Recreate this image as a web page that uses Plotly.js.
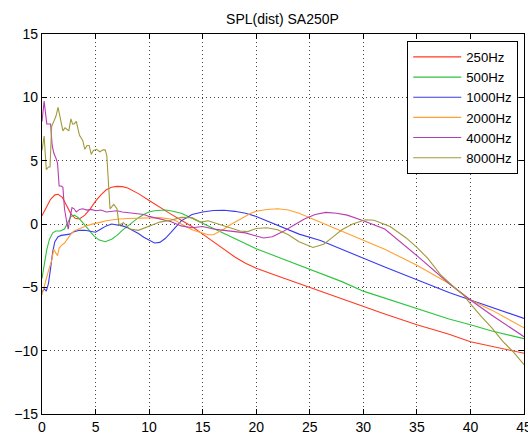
<!DOCTYPE html>
<html>
<head>
<meta charset="utf-8">
<script src="https://cdn.plot.ly/plotly-3.0.1.min.js"></script>
<style>html,body{margin:0;padding:0;background:#fff;}#plot{width:528px;height:435px;}</style>
</head>
<body>
<div id="plot"></div>
<script>
const seriesNames = ["250Hz", "500Hz", "1000Hz", "2000Hz", "4000Hz", "8000Hz"];
const seriesColors = ["#ff3a20", "#2ec43c", "#3a3aee", "#ffa030", "#b83cb0", "#a09a38"];

const x250 = [0, 0.4, 0.8, 1.2, 1.5, 1.9, 2.3, 2.7, 3.1, 3.5, 4.0, 4.5, 5.0, 5.5, 6.0, 6.5, 7.0, 7.5, 8.0, 9.0, 10.0, 11.0, 12.0, 13.0, 14.0, 15.0, 16.0, 17.0, 18.0, 19.0, 20.0, 22.0, 24.0, 26.0, 28.0, 30.0, 32.0, 35.0, 38.0, 40.0, 42.0, 44.0, 45.0];
const y250 = [0.65, 1.3, 1.95, 2.3, 2.35, 2.1, 1.5, 0.8, 0.45, 0.4, 0.7, 1.2, 1.8, 2.3, 2.7, 2.9, 2.97, 2.95, 2.85, 2.4, 1.85, 1.3, 0.8, 0.3, -0.2, -0.8, -1.4, -2.0, -2.6, -3.1, -3.5, -4.1, -4.7, -5.3, -5.9, -6.55, -7.1, -7.95, -8.7, -9.3, -9.65, -10.0, -10.2];

const x500 = [0, 0.2, 0.45, 0.7, 1.0, 1.3, 1.7, 2.1, 2.4, 2.7, 3.0, 3.4, 3.8, 4.3, 4.8, 5.3, 5.9, 6.5, 7.0, 7.5, 8.0, 8.5, 9.0, 9.5, 10.0, 10.5, 11.0, 11.5, 12.0, 13.0, 14.0, 15.0, 16.0, 17.0, 18.0, 19.0, 20.0, 22.0, 24.0, 26.0, 28.0, 30.0, 32.0, 35.0, 38.0, 40.0, 42.0, 45.0];
const y500 = [-4.3, -3.2, -2.0, -1.2, -0.7, -0.55, -0.55, -0.4, 0.1, 0.6, 0.7, 0.5, 0.1, -0.4, -0.9, -1.25, -1.4, -1.2, -0.9, -0.5, -0.15, 0.2, 0.5, 0.75, 0.95, 1.05, 1.1, 1.1, 1.05, 0.85, 0.45, 0.05, -0.35, -0.75, -1.15, -1.55, -1.95, -2.6, -3.25, -3.9, -4.55, -5.3, -5.85, -6.7, -7.5, -7.95, -8.45, -9.05];

const x1000 = [0, 0.2, 0.4, 0.6, 0.8, 1.0, 1.2, 1.5, 1.8, 2.2, 2.6, 3.0, 3.5, 4.0, 4.5, 5.0, 5.5, 6.0, 6.5, 7.0, 7.5, 8.0, 8.5, 9.0, 9.5, 10.0, 10.5, 11.0, 11.5, 12.0, 12.5, 13.0, 14.0, 15.0, 16.0, 17.0, 18.0, 19.0, 20.0, 21.0, 22.0, 23.0, 24.0, 26.0, 28.0, 30.0, 32.0, 35.0, 38.0, 40.0, 42.0, 45.0];
const y1000 = [-5.4, -5.1, -5.3, -4.7, -3.5, -2.2, -1.4, -1.0, -0.9, -0.85, -0.8, -0.6, -0.5, -0.5, -0.55, -0.65, -0.4, -0.15, 0.0, -0.05, -0.15, -0.3, -0.5, -0.75, -1.05, -1.3, -1.5, -1.45, -1.15, -0.7, -0.2, 0.25, 0.75, 0.95, 1.07, 1.08, 1.0, 0.85, 0.6, 0.25, -0.1, -0.45, -0.8, -1.3, -2.0, -2.75, -3.4, -4.4, -5.4, -6.0, -6.6, -7.45];

const x2000 = [0, 0.3, 0.6, 0.9, 1.1, 1.3, 1.45, 1.6, 1.8, 2.1, 2.4, 2.7, 3.0, 3.5, 4.0, 4.5, 5.0, 5.5, 6.0, 7.0, 8.0, 9.0, 10.0, 11.0, 12.0, 12.5, 13.0, 13.5, 14.0, 14.5, 15.0, 15.5, 16.0, 16.5, 17.0, 17.5, 18.0, 18.5, 19.0, 19.5, 20.0, 21.0, 22.0, 23.0, 24.0, 25.0, 26.0, 27.0, 28.0, 30.0, 32.0, 35.0, 38.0, 40.0, 42.0, 45.0];
const y2000 = [-5.6, -4.6, -3.7, -2.9, -2.0, -2.3, -2.5, -1.9, -1.7, -1.5, -1.1, -0.8, -0.55, -0.35, -0.2, -0.05, 0.08, 0.15, 0.25, 0.38, 0.43, 0.45, 0.52, 0.5, 0.4, 0.25, 0.0, -0.25, -0.45, -0.6, -0.75, -0.85, -0.85, -0.65, -0.4, -0.1, 0.15, 0.4, 0.65, 0.85, 1.0, 1.15, 1.2, 1.1, 0.85, 0.5, 0.15, -0.2, -0.55, -1.3, -2.0, -3.25, -4.7, -6.0, -6.8, -8.2];

const x4000 = [0, 0.2, 0.35, 0.45, 0.6, 0.8, 0.95, 1.1, 1.3, 1.45, 1.6, 1.8, 1.95, 2.1, 2.3, 2.45, 2.6, 2.8, 3.0, 3.2, 3.5, 3.8, 4.2, 4.6, 5.0, 5.5, 6.0, 6.5, 7.0, 7.5, 8.0, 8.5, 9.0, 9.5, 10.0, 11.0, 12.0, 13.0, 14.0, 15.0, 16.0, 17.0, 18.0, 19.0, 20.0, 20.7, 21.5, 22.5, 23.5, 24.5, 25.5, 26.5, 27.5, 28.5, 30.0, 32.0, 35.0, 38.0, 40.0, 42.0, 45.0];
const y4000 = [8.1, 9.7, 8.6, 7.9, 7.9, 7.9, 6.2, 5.6, 5.2, 4.8, 3.0, 3.0, 2.9, 1.2, 0.2, -0.4, 0.4, 1.3, 1.2, 0.95, 1.15, 1.2, 1.1, 1.15, 1.05, 1.1, 0.95, 1.0, 1.05, 0.95, 0.9, 0.85, 0.75, 0.75, 0.6, 0.4, 0.2, -0.15, -0.3, -0.2, -0.4, -0.5, -0.6, -0.7, -0.95, -1.1, -1.0, -0.6, -0.1, 0.4, 0.75, 0.92, 0.85, 0.7, 0.26, -0.4, -2.5, -4.7, -6.0, -7.2, -8.9];

const x8000 = [0, 0.2, 0.4, 0.6, 0.75, 0.9, 1.1, 1.3, 1.5, 1.7, 1.95, 2.15, 2.3, 2.5, 2.7, 2.85, 3.0, 3.2, 3.5, 3.8, 4.0, 4.2, 4.4, 4.6, 4.8, 5.1, 5.4, 5.7, 5.9, 6.05, 6.35, 6.7, 7.0, 7.2, 7.6, 8.2, 9.0, 10.0, 11.0, 12.0, 13.0, 14.0, 14.8, 15.5, 16.5, 17.5, 18.5, 19.2, 20.0, 21.0, 22.0, 23.0, 24.0, 25.3, 26.3, 27.2, 28.0, 29.0, 30.2, 31.0, 32.5, 34.0, 35.0, 36.0, 37.2, 38.5, 39.4, 40.0, 41.0, 42.0, 43.0, 44.0, 45.0];
const y8000 = [5.8, 6.95, 4.3, 4.5, 4.5, 7.7, 8.1, 8.5, 9.2, 8.4, 7.35, 7.6, 7.5, 7.35, 8.3, 7.9, 7.9, 8.1, 7.0, 6.6, 5.9, 6.2, 6.2, 5.5, 5.8, 5.9, 5.7, 5.85, 5.85, 5.4, 1.2, 1.55, 1.2, -0.1, 0.1, -0.4, -0.5, -0.15, 0.15, 0.3, 0.52, 0.5, 0.15, 0.25, 0.0, -0.3, -0.55, -0.6, -0.35, -0.3, -0.45, -0.85, -1.4, -1.85, -1.6, -1.0, -0.45, 0.0, 0.34, 0.3, -0.2, -1.1, -1.84, -2.7, -4.0, -5.0, -5.65, -6.3, -7.3, -8.2, -9.25, -10.1, -11.1];

const xTickVals = [0, 5, 10, 15, 20, 25, 30, 35, 40, 45];
const yTickVals = [-15, -10, -5, 0, 5, 10, 15];

const xs = [x250, x500, x1000, x2000, x4000, x8000];
const ys = [y250, y500, y1000, y2000, y4000, y8000];

const traces = seriesNames.map((name, i) => ({
  x: xs[i], y: ys[i], name: name, type: 'scatter', mode: 'lines',
  line: {color: seriesColors[i], width: 1.1}
}));

const axisCommon = {
  showline: true, linecolor: '#000', linewidth: 1.2, mirror: 'ticks',
  ticks: 'inside', ticklen: 5, tickcolor: '#000', tickwidth: 1,
  showgrid: true, gridcolor: '#444', griddash: '1px,3px', gridwidth: 1,
  zeroline: false, tickfont: {size: 14, color: '#000'}, ticklabeloverflow: 'allow'
};

const layout = {
  width: 528, height: 435,
  margin: {l: 42, r: 3.5, t: 34, b: 20.5},
  paper_bgcolor: '#fff', plot_bgcolor: '#fff',
  font: {family: 'Liberation Sans, Arial, sans-serif', color: '#000'},
  title: {text: 'SPL(dist) SA250P', font: {size: 14, color: '#000'}, x: 0.535, xanchor: 'center', y: 0.956, yanchor: 'middle', yref: 'container'},
  xaxis: Object.assign({}, axisCommon, {range: [0, 45], tickvals: xTickVals}),
  yaxis: Object.assign({}, axisCommon, {range: [-15, 15], tickvals: yTickVals}),
  showlegend: true,
  legend: {x: 0.988, xanchor: 'right', y: 0.982, yanchor: 'top', bgcolor: '#fff', bordercolor: '#000', borderwidth: 1, font: {size: 13.2, color: '#000'}, tracegroupgap: 0, itemwidth: 48}
};

Plotly.newPlot('plot', traces, layout, {displayModeBar: false, staticPlot: true});
</script>
</body>
</html>
